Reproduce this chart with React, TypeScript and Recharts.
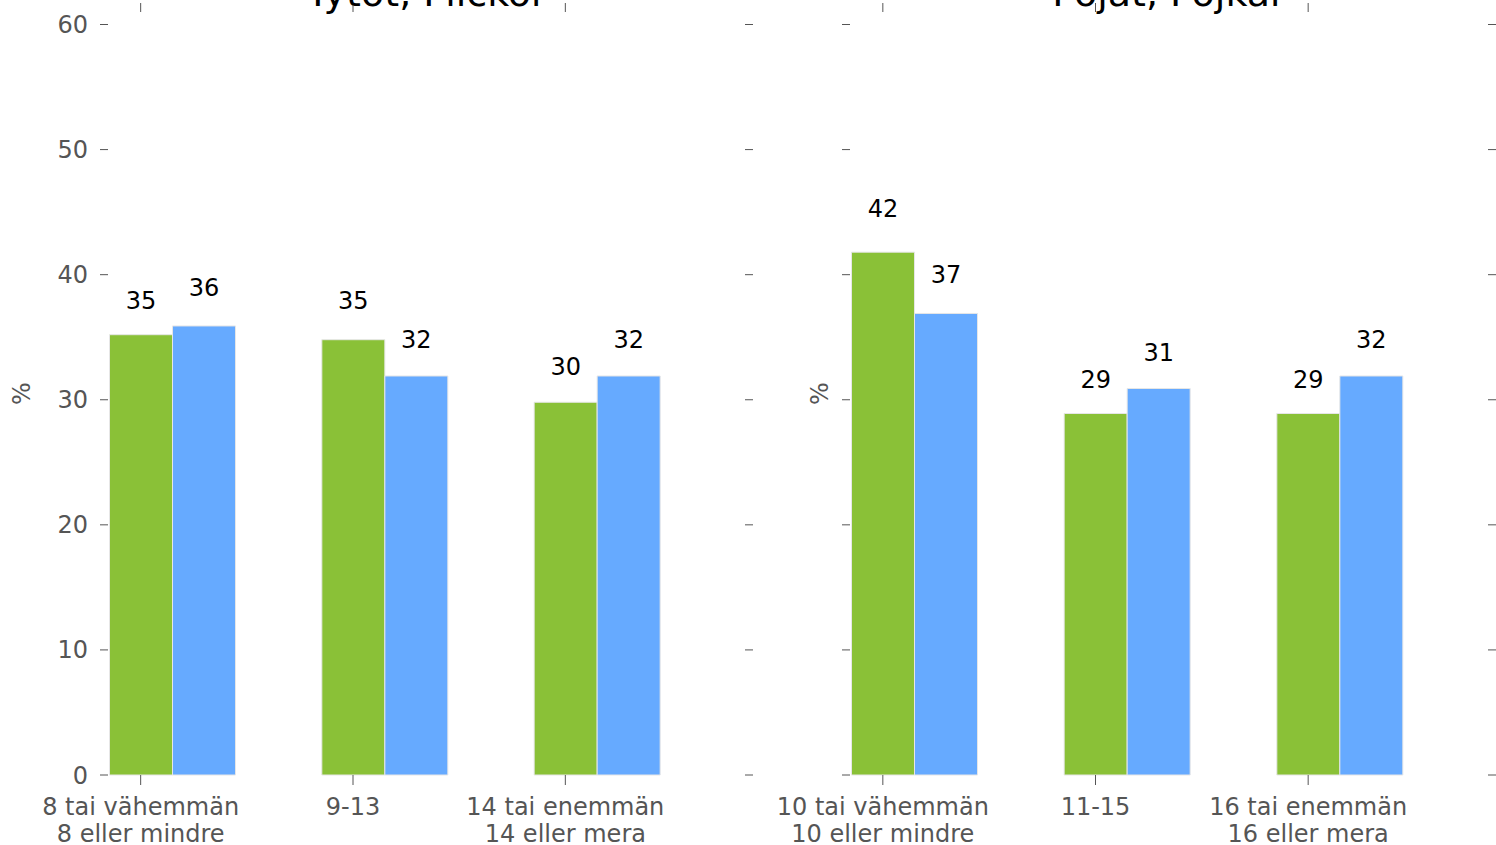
import React from "react";
import { ComposedChart, Bar, Line, XAxis, YAxis, LabelList } from "recharts";

const FONT = "'DejaVu Sans', sans-serif";

// Tytöt, Flickor
const girlsCategories = [
  "8 tai vähemmän\n8 eller mindre",
  "9-13",
  "14 tai enemmän\n14 eller mera",
];
const girlsGreen = [35.2, 34.8, 29.8];
const girlsBlue = [35.9, 31.9, 31.9];

// Pojat, Pojkar
const boysCategories = [
  "10 tai vähemmän\n10 eller mindre",
  "11-15",
  "16 tai enemmän\n16 eller mera",
];
const boysGreen = [41.8, 28.9, 28.9];
const boysBlue = [36.9, 30.9, 31.9];

const yTicks = [0, 10, 20, 30, 40, 50, 60];

function CategoryTick(props: any) {
  const { x, y, payload } = props;
  const lines = String(payload.value).split("\n");
  return (
    <text x={x} y={y} textAnchor="middle" fill="#555" fontSize={24} fontFamily={FONT}>
      {lines.map((line, i) => (
        <tspan key={i} x={x} dy={i === 0 ? 30 : 27}>
          {line}
        </tspan>
      ))}
    </text>
  );
}

// keeps the tick mark, drops the label
function EmptyTick() {
  return <g />;
}

function PctLabel(props: any) {
  const { px, viewBox } = props;
  const cy = viewBox.y + viewBox.height / 2;
  return (
    <text
      x={px}
      y={cy}
      transform={`rotate(-90 ${px} ${cy})`}
      textAnchor="middle"
      dominantBaseline="central"
      fill="#555"
      fontSize={24}
      fontFamily={FONT}
    >
      %
    </text>
  );
}

function TitleLabel(props: any) {
  const { text, cx } = props;
  return (
    <text x={cx} y={6} textAnchor="middle" fill="#000" fontSize={38} fontFamily={FONT}>
      {text}
    </text>
  );
}

// value label sits a bit above the rounded value (like the original text placement)
function ValueLabel(props: any) {
  const { x, y, width, height, value } = props;
  const v = Number(value);
  const r = Math.round(v);
  const ppu = height / v;
  const zeroY = y + height;
  const cy = zeroY - (1.05 * r + 1.2) * ppu;
  return (
    <text
      x={x + width / 2}
      y={cy}
      dy="0.36em"
      textAnchor="middle"
      fill="#000"
      fontSize={24}
      fontFamily={FONT}
    >
      {r}
    </text>
  );
}

interface PanelProps {
  title: string;
  categories: string[];
  green: number[];
  blue: number[];
  left: number;
  width: number;
  rightMargin: number;
  pctX: number;
  showYLabels: boolean;
}

function Panel({ title, categories, green, blue, left, width, rightMargin, pctX, showYLabels }: PanelProps) {
  const data = categories.map((name, i) => ({ name, g: green[i], b: blue[i] }));
  const plotCenter = (108 + width - rightMargin) / 2;
  return (
    <div style={{ position: "absolute", left, top: 0 }}>
      <ComposedChart
        width={width}
        height={845}
        data={data}
        margin={{ top: 11, right: rightMargin - 1, bottom: 0, left: 0 }}
        barGap={0}
        barSize={63}
      >
        <XAxis xAxisId="bars" dataKey="name" hide height={0} padding={{ left: -41.5, right: 41.5 }} />
        <XAxis
          xAxisId="ticks"
          dataKey="name"
          height={70}
          axisLine={false}
          tickSize={10}
          tickMargin={0}
          tickLine={{ stroke: "#555" }}
          tick={<CategoryTick />}
          interval={0}
          padding={{ left: -73.5, right: 73.5 }}
        />
        <XAxis
          xAxisId="top"
          orientation="top"
          dataKey="name"
          height={1}
          axisLine={false}
          tickSize={9}
          tickLine={{ stroke: "#555" }}
          tick={<EmptyTick />}
          interval={0}
          padding={{ left: -73.5, right: 73.5 }}
          label={<TitleLabel text={title} cx={plotCenter} />}
        />
        <YAxis
          yAxisId="l"
          width={108}
          domain={[0, 61]}
          ticks={yTicks}
          axisLine={false}
          tickSize={8}
          tickMargin={12}
          tickLine={{ stroke: "#555" }}
          tick={showYLabels ? { fill: "#555", fontSize: 24, fontFamily: FONT } : <EmptyTick />}
          label={<PctLabel px={pctX} />}
        />
        <YAxis
          yAxisId="r"
          orientation="right"
          width={1}
          domain={[0, 61]}
          ticks={yTicks}
          axisLine={false}
          tickSize={8}
          tickLine={{ stroke: "#555" }}
          tick={<EmptyTick />}
        />
        <Bar dataKey="g" xAxisId="bars" yAxisId="l" fill="#8AC137" stroke="#e6e6e6" strokeWidth={1} isAnimationActive={false}>
          <LabelList dataKey="g" content={<ValueLabel />} />
        </Bar>
        <Bar dataKey="b" xAxisId="bars" yAxisId="l" fill="#66AAFF" stroke="#e6e6e6" strokeWidth={1} isAnimationActive={false}>
          <LabelList dataKey="b" content={<ValueLabel />} />
        </Bar>
        {/* invisible series so the right-hand tick marks get drawn */}
        <Line
          dataKey="g"
          xAxisId="bars"
          yAxisId="r"
          stroke="none"
          dot={false}
          activeDot={false}
          isAnimationActive={false}
        />
      </ComposedChart>
    </div>
  );
}

export default function App() {
  return (
    <div
      style={{
        position: "absolute",
        left: 0,
        top: 0,
        width: 1496,
        height: 845,
        overflow: "hidden",
        background: "#fff",
      }}
    >
      <Panel
        title="Tytöt, Flickor"
        categories={girlsCategories}
        green={girlsGreen}
        blue={girlsBlue}
        left={0}
        width={760}
        rightMargin={15}
        pctX={22}
        showYLabels
      />
      <Panel
        title="Pojat, Pojkar"
        categories={boysCategories}
        green={boysGreen}
        blue={boysBlue}
        left={742}
        width={754}
        rightMargin={8}
        pctX={78}
        showYLabels={false}
      />
    </div>
  );
}
